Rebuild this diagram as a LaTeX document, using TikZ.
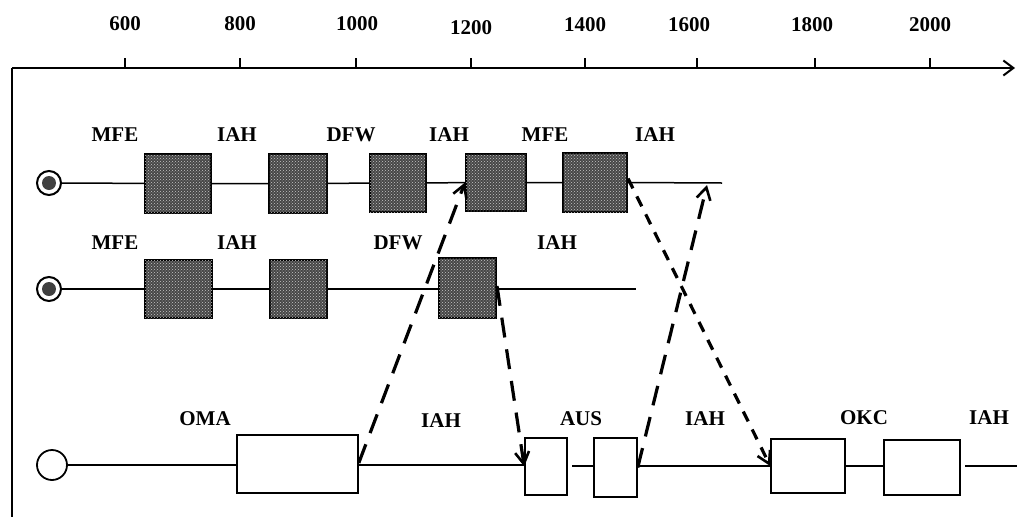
\documentclass[tikz,border=0pt]{standalone}
\usepackage{fontspec}
\setmainfont{Liberation Serif}
\usetikzlibrary{arrows.meta,patterns}
\begin{document}
\begin{tikzpicture}[x=1pt,y=-1pt,
  lbl/.style={inner sep=0pt, font=\fontsize{21}{24}\selectfont\bfseries},
  darkbox/.style={draw, line width=2pt, fill=black!72, inner sep=0pt,
    postaction={pattern=crosshatch dots, pattern color=gray!45}},
  openbox/.style={draw, line width=1.5pt, fill=white, inner sep=0pt},
  rowline/.style={line width=1.5pt},
  axisline/.style={line width=1.8pt},
  startc/.style={circle, draw, line width=2pt, fill=white, inner sep=0pt, minimum size=24pt},
  tip/.style={-{Straight Barb[length=12pt,width=14pt,line width=2.6pt]}},
  longdash/.style={line width=3.2pt, dash pattern=on 20pt off 12pt, tip},
  shortdash/.style={line width=3.2pt, dash pattern=on 11pt off 9pt, tip}
]
\useasboundingbox (0,0) rectangle (1017,517);
% axis
\coordinate (o) at (12,68);
\coordinate (xend) at (1015,68);
\coordinate (ybot) at (12,517);
\draw[axisline, -{Straight Barb[length=10pt,width=15pt,line width=2pt]}] (o) -- (xend);
\draw[axisline] (o) -- (ybot);
\foreach \xx/\lab/\ly/\lx in {125/600/24/125, 240/800/24/240, 356/1000/24/357, 471/1200/27.5/471, 585/1400/24.5/585, 697/1600/24.5/689, 815/1800/24.5/812, 930/2000/24.5/930}{
  \draw[axisline] (\xx,58) -- (\xx,68);
  \node[lbl] (t\lab) at (\lx,\ly) {\lab};
}
% row 1
\node[startc] (s1) at (49,183) {};
\fill[black!75] (s1) circle (7pt);
\node[darkbox, minimum width=66pt, minimum height=59pt] (a1) at (178,183.5) {};
\node[darkbox, minimum width=58pt, minimum height=59pt] (a2) at (298,183.5) {};
\node[darkbox, minimum width=56pt, minimum height=58pt] (a3) at (398,183) {};
\node[darkbox, minimum width=60pt, minimum height=57pt] (a4) at (496,182.5) {};
\node[darkbox, minimum width=64pt, minimum height=59pt] (a5) at (595,182.5) {};
\coordinate (r1end) at (722,183);
\coordinate (r1tip) at (707,185);
\draw[rowline] (s1) -- (a1) (a1) -- (a2) (a2) -- (a3) (a3) -- (a4) (a4) -- (a5) (a5.east) -- (r1end);
\node[lbl] (l11) at (115,134.5) {MFE};
\node[lbl] (l12) at (237,134.5) {IAH};
\node[lbl] (l13) at (351,134.5) {DFW};
\node[lbl] (l14) at (449,134.5) {IAH};
\node[lbl] (l15) at (545,134.5) {MFE};
\node[lbl] (l16) at (655,134.5) {IAH};
% row 2
\node[startc] (s2) at (49,289) {};
\fill[black!75] (s2) circle (7pt);
\node[darkbox, minimum width=67pt, minimum height=58pt] (b1) at (178.5,289) {};
\node[darkbox, minimum width=57pt, minimum height=58pt] (b2) at (298.5,289) {};
\node[darkbox, minimum width=57pt, minimum height=60pt] (b3) at (467.5,288) {};
\coordinate (r2end) at (636,289);
\draw[rowline] (s2) -- (b1) (b1) -- (b2) (b2.east) -- (b3.west |- b2.east) (b3.east |- b2.east) -- (r2end);
\node[lbl] (l21) at (115,242.5) {MFE};
\node[lbl] (l22) at (237,242.5) {IAH};
\node[lbl] (l23) at (398,242.5) {DFW};
\node[lbl] (l24) at (557,242.5) {IAH};
% row 3
\node[circle, draw, line width=1.8pt, fill=white, inner sep=0pt, minimum size=30pt] (s3) at (52,465) {};
\node[openbox, minimum width=121pt, minimum height=58pt] (c1) at (297.5,464) {};
\node[openbox, minimum width=42pt, minimum height=57pt] (c2) at (546,466.5) {};
\node[openbox, minimum width=43pt, minimum height=59pt] (c3) at (615.5,467.5) {};
\node[openbox, minimum width=74pt, minimum height=54pt] (c4) at (808,466) {};
\node[openbox, minimum width=76pt, minimum height=55pt] (c5) at (922,467.5) {};
\coordinate (g1) at (572,466);
\coordinate (g2) at (965,466);
\coordinate (r3end) at (1017,466);
\draw[rowline] (s3) -- (c1.west |- s3) (c1.east |- s3) -- (c2.west |- s3)
  (g1) -- (c3.west |- g1) (c3.east |- g1) -- (c4.west |- g1) (c4.east |- g1) -- (c5.west |- g1) (g2) -- (r3end);
\node[lbl] (l31) at (205,418.5) {OMA};
\node[lbl] (l32) at (441,421) {IAH};
\node[lbl] (l33) at (581,419) {AUS};
\node[lbl] (l34) at (705,419) {IAH};
\node[lbl] (l35) at (864,417.5) {OKC};
\node[lbl] (l36) at (989,418) {IAH};
% dashed transfers
\draw[longdash] ([yshift=1pt]c1.east) -- (a4.west);
\draw[longdash] ([yshift=2pt]b3.east) -- (c2.west);
\draw[longdash] (c3.east) -- (r1tip);
\draw[shortdash] ([yshift=4pt]a5.east) -- (c4.west);
\end{tikzpicture}
\end{document}
